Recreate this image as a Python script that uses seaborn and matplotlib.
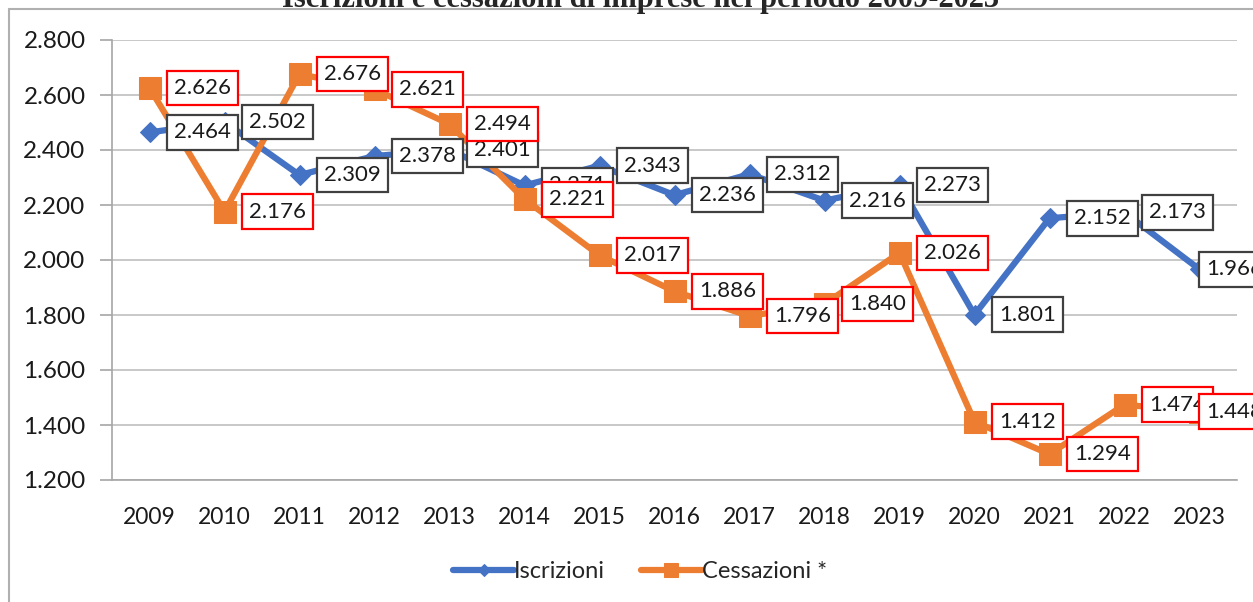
import numpy as np
import pandas as pd
import seaborn as sns
import matplotlib.pyplot as plt
from matplotlib.lines import Line2D
from matplotlib.ticker import FixedLocator

# Data (thousands of firms)
years = [str(y) for y in range(2009, 2024)]
iscrizioni = [2.464, 2.502, 2.309, 2.378, 2.401, 2.271, 2.343, 2.236,
              2.312, 2.216, 2.273, 1.801, 2.152, 2.173, 1.966]
cessazioni = [2.626, 2.176, 2.676, 2.621, 2.494, 2.221, 2.017, 1.886,
              1.796, 1.840, 2.026, 1.412, 1.294, 1.474, 1.448]
y_ticks = [1.2, 1.4, 1.6, 1.8, 2.0, 2.2, 2.4, 2.6, 2.8]
title = "Iscrizioni e cessazioni di imprese nel periodo 2009-2023"

blue = "#4472C4"
orange = "#ED7D31"

df = pd.DataFrame({"pos": np.arange(len(years)),
                   "Iscrizioni": iscrizioni,
                   "Cessazioni *": cessazioni})

sns.set_style("white")
plt.rcParams['font.family'] = ['Lato', 'DejaVu Sans']

fig = plt.figure(figsize=(12.53, 6.02), dpi=100)
ax = fig.add_axes([112 / 1253, 1 - 480 / 602, 1125 / 1253, 440 / 602])

sns.lineplot(data=df, x="pos", y="Iscrizioni", ax=ax, color=blue, lw=4.5,
             marker="D", markersize=10, markeredgecolor=blue, label="Iscrizioni", zorder=3)
sns.lineplot(data=df, x="pos", y="Cessazioni *", ax=ax, color=orange, lw=4.5,
             marker="s", markersize=16, markeredgecolor=orange, label="Cessazioni *", zorder=4)


# data labels, boxed to the right of each point (last one pulled in, like Excel)
def add_labels(values, edge, z):
    for i, v in enumerate(values):
        dx = 53 if i < len(values) - 1 else 35
        ax.annotate(f"{v:.3f}", (i, v), xytext=(dx, 0), textcoords="offset pixels",
                    ha="center", va="center", fontsize=16, color="#1a1a1a",
                    bbox=dict(boxstyle="square,pad=0.33", fc="white", ec=edge, lw=1.6),
                    zorder=z, annotation_clip=False)


add_labels(iscrizioni, "#404040", 5)
add_labels(cessazioni, "#FF0000", 6)

ax.set_xlim(-0.5, len(years) - 0.5)
ax.set_ylim(1.2, 2.8)
ax.set_xticks(range(len(years)))
ax.set_xticklabels(years)
ax.xaxis.set_minor_locator(FixedLocator(np.arange(-0.5, len(years), 1)))
ax.set_yticks(y_ticks)
ax.set_yticklabels([f"{v * 1000:,.0f}".replace(",", ".") for v in y_ticks])
ax.tick_params(axis="x", which="major", length=0, pad=19.5, labelsize=16.5, labelcolor="#1a1a1a")
ax.tick_params(axis="x", which="minor", length=8, width=1.2, color="#a6a6a6", direction="out")
ax.tick_params(axis="y", length=9, width=1.2, color="#a6a6a6", direction="out",
               pad=10, labelsize=17.5, labelcolor="#1a1a1a", left=True)
ax.grid(axis="y", color="#bfbfbf", lw=1.2)
ax.set_axisbelow(True)
for side in ["top", "right"]:
    ax.spines[side].set_visible(False)
for side in ["left", "bottom"]:
    ax.spines[side].set_color("#a6a6a6")
    ax.spines[side].set_linewidth(1.2)
ax.set_xlabel("")
ax.set_ylabel("")

handles, labels = ax.get_legend_handles_labels()
ax.get_legend().remove()
fig.legend(handles, labels, loc="center", bbox_to_anchor=(640 / 1253, 1 - 572 / 602),
           ncol=2, frameon=False, fontsize=17, handlelength=2.6, handletextpad=0.0,
           columnspacing=1.5, markerscale=0.6)

# outer chart frame
fig.add_artist(Line2D([9 / 1253, 1], [1 - 9 / 602, 1 - 9 / 602], color="#b0b0b0", lw=1.5))
fig.add_artist(Line2D([9 / 1253, 9 / 1253], [0, 1 - 9 / 602], color="#b0b0b0", lw=1.5))

# title (cut off at top as in the source)
fig.text(640 / 1253, 1 - 7 / 602, title, ha="center", va="baseline",
         fontsize=22, fontweight="bold", family=["Liberation Serif", "DejaVu Serif"])

fig.savefig("out.png", dpi=100)
